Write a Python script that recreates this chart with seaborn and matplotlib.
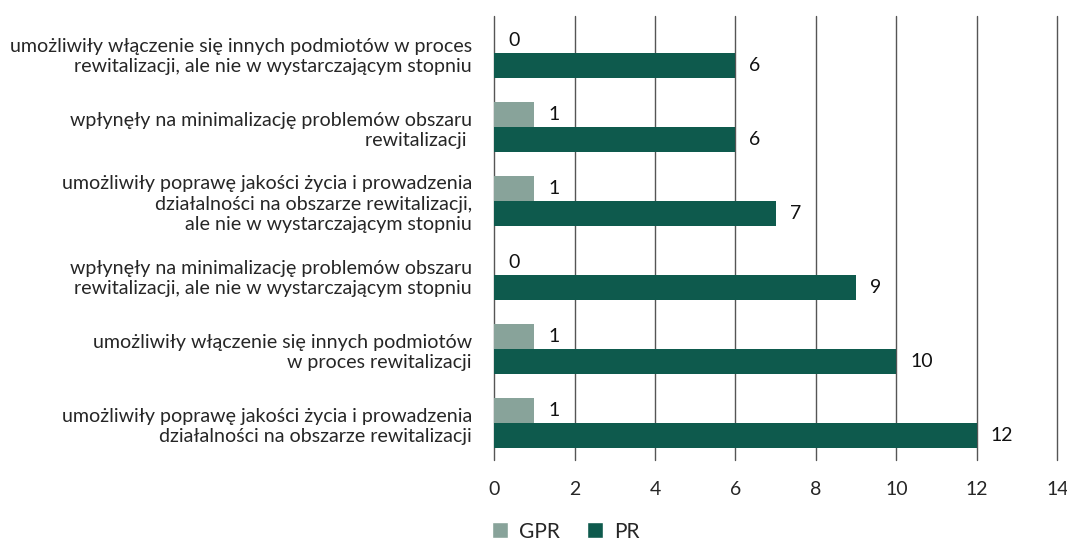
import numpy as np
import pandas as pd
import seaborn as sns
import matplotlib.pyplot as plt
from matplotlib.patches import Patch

# Chart data
categories = [
    "umożliwiły włączenie się innych podmiotów w proces\nrewitalizacji, ale nie w wystarczającym stopniu",
    "wpłynęły na minimalizację problemów obszaru\nrewitalizacji ",
    "umożliwiły poprawę jakości życia i prowadzenia\ndziałalności na obszarze rewitalizacji,\nale nie w wystarczającym stopniu",
    "wpłynęły na minimalizację problemów obszaru\nrewitalizacji, ale nie w wystarczającym stopniu",
    "umożliwiły włączenie się innych podmiotów\nw proces rewitalizacji",
    "umożliwiły poprawę jakości życia i prowadzenia\ndziałalności na obszarze rewitalizacji",
]
gpr_values = [0, 1, 1, 0, 1, 1]
pr_values = [6, 6, 7, 9, 10, 12]
series = ["GPR", "PR"]
x_ticks = [0, 2, 4, 6, 8, 10, 12, 14]

colors = {"GPR": "#88a39a", "PR": "#0e5a4d"}

df = pd.DataFrame({
    "kategoria": categories * 2,
    "seria": ["GPR"] * len(categories) + ["PR"] * len(categories),
    "wartosc": gpr_values + pr_values,
})

sns.set_style("white")
plt.rcParams['font.family'] = ['Lato', 'DejaVu Sans']

fig = plt.figure(figsize=(10.67, 5.42), dpi=100)
ax = fig.add_axes([0.463, 0.151, 0.528, 0.819])

sns.barplot(data=df, y="kategoria", x="wartosc", hue="seria", hue_order=series,
            palette=colors, orient="h", width=0.68, saturation=1, linewidth=0,
            ax=ax, legend=False)

for container in ax.containers:
    ax.bar_label(container, padding=10, fontsize=14, color="#111111")

ax.set_xlim(0, 14)
ax.set_xticks(x_ticks)
ax.set_xticklabels([str(t) for t in x_ticks], fontsize=14)
ax.tick_params(axis="x", length=0, pad=15)
ax.tick_params(axis="y", length=0, pad=16, labelsize=14.1)
for lbl in ax.get_yticklabels():
    lbl.set_horizontalalignment("right")
    lbl.set_linespacing(1.25)
ax.set_xlabel("")
ax.set_ylabel("")
for s in ax.spines.values():
    s.set_visible(False)
ax.grid(axis="x", color="#555555", linewidth=1)
for gl in ax.get_xgridlines():
    gl.set_clip_on(False)
ax.set_axisbelow(True)

handles = [Patch(facecolor=colors[s], label=s) for s in series]
fig.legend(handles=handles, loc="lower center", bbox_to_anchor=(0.53, -0.034), ncol=2,
           frameon=False, fontsize=15, handlelength=0.8, handleheight=0.8,
           handletextpad=0.5, columnspacing=1.3)

fig.savefig("out.png", dpi=100)
